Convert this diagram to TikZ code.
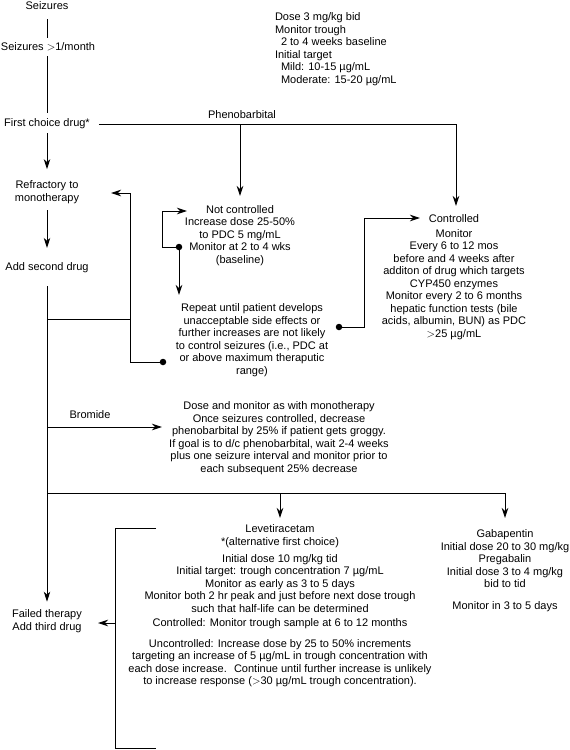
\documentclass[tikz,border=0pt]{standalone}
\usepackage{fontspec}
\setmainfont{Liberation Sans}
\usetikzlibrary{arrows.meta}
\begin{document}
\begin{tikzpicture}[x=1pt,y=-1pt,
  every node/.style={inner sep=0pt, outer sep=0pt, font=\fontsize{11}{12.5}\selectfont},
  txt/.style={align=center},
  ln/.style={line width=0.9pt},
  arr/.style={ln,-{Stealth[length=10pt,width=6.5pt,inset=3pt]}},
  jdot/.style={circle,fill,minimum size=6.5pt}]
\useasboundingbox (0,0) rectangle (570,750);
% left column
\node (sz) at (47,6) {Seizures};
\node (sz2) at (48,47) {Seizures $>$1/month};
\node (fc) at (47,124) {First choice drug*};
\node[txt] (refr) at (47,192) {Refractory to\\monotherapy};
\node (add2) at (47,268) {Add second drug};
\node[txt] (fail) at (47,621) {Failed therapy\\Add third drug};
% texts
\node[align=left, anchor=west] (dose) at (275,49) {Dose 3 mg/kg bid\\Monitor trough\\\hspace*{6pt}2 to 4 weeks baseline\\Initial target\\\hspace*{6pt}Mild: 10-15 µg/mL\\\hspace*{6pt}Moderate: 15-20 µg/mL};
\node (pheno) at (242,115) {Phenobarbital};
\node[txt] (nc) at (240,235.5) {Not controlled\\Increase dose 25-50\%\\to PDC 5 mg/mL\\Monitor at 2 to 4 wks\\(baseline)};
\node[txt] (rep) at (252,340) {Repeat until patient develops\\unacceptable side effects or\\further increases are not likely\\to control seizures (i.e., PDC at\\or above maximum theraputic\\range)};
\node[txt] (ctl) at (454,277) {Controlled\\[2pt]Monitor\\Every 6 to 12 mos\\before and 4 weeks after\\additon of drug which targets\\CYP450 enzymes\\Monitor every 2 to 6 months\\hepatic function tests (bile\\acids, albumin, BUN) as PDC\\$>$25 µg/mL};
\node (brl) at (90,415) {Bromide};
\node[txt] (brt) at (279,438) {Dose and monitor as with monotherapy\\Once seizures controlled, decrease\\phenobarbital by 25\% if patient gets groggy.\\If goal is to d/c phenobarbital, wait 2-4 weeks\\plus one seizure interval and monitor prior to\\each subsequent 25\% decrease};
\node[txt] (lev) at (280,606) {Levetiracetam\\{}*(alternative first choice)\\[4.5pt]Initial dose 10 mg/kg tid\\Initial target: trough concentration 7 µg/mL\\Monitor as early as 3 to 5 days\\Monitor both 2 hr peak and just before next dose trough\\such that half-life can be determined\\[1.5pt]Controlled: Monitor trough sample at 6 to 12 months\\[8.5pt]Uncontrolled: Increase dose by 25 to 50\% increments\\targeting an increase of 5 µg/mL in trough concentration with\\each dose increase.~ Continue until further increase is unlikely\\to increase response ($>$30 µg/mL trough concentration).};
\node[txt] (gab) at (505,571) {Gabapentin\\Initial dose 20 to 30 mg/kg\\Pregabalin\\Initial dose 3 to 4 mg/kg\\bid to tid\\[9.5pt]Monitor in 3 to 5 days};
% dots
\node[jdot] (d1) at (179,247) {};
\node[jdot] (d2) at (339,327) {};
\node[jdot] (d3) at (163,362) {};
% coordinates
\coordinate (j1) at (47,319);
\coordinate (j2) at (47,427);
\coordinate (j3) at (47,493);
\coordinate (fbj) at (130,319);
\coordinate (fbtop) at (130,193);
\coordinate (fbbot) at (130,362);
\coordinate (fbtip) at (111,193);
\coordinate (nclp) at (162,211);
\coordinate (nctip) at (187,211);
\coordinate (reptip) at (179,295);
\coordinate (c2) at (364,218);
\coordinate (ctltip) at (420,218);
\coordinate (phR) at (456,124);
\coordinate (phRtip) at (456,206);
\coordinate (phM) at (240,124);
\coordinate (phMtip) at (240,196);
\coordinate (brtip) at (162,427);
\coordinate (j3r) at (505,493);
\coordinate (levtop) at (280,493);
\coordinate (levtip) at (280,518);
\coordinate (gabtip) at (505,518);
\coordinate (b1) at (156,528);
\coordinate (b2) at (115,528);
\coordinate (b3) at (115,748);
\coordinate (b4) at (156,748);
\coordinate (bm) at (115,623);
\coordinate (bmtip) at (98,623);
% connectors
\draw[ln, shorten <=9pt, shorten >=5pt] (sz.south) -- (sz.south |- sz2.north);
\draw[ln, shorten <=5pt, shorten >=6pt] (sz.south |- sz2.south) -- (fc.north);
\draw[arr, shorten <=4pt, shorten >=11.5pt] (fc.south) -- (refr.north);
\draw[arr, shorten <=7pt, shorten >=15pt] (refr.south) -- (add2.north);
\draw[arr, shorten <=13pt, shorten >=8pt] (add2.south) -- (fail.north);
\draw[arr, shorten <=9pt] (fc.east) -- (phR) -- (phRtip);
\draw[arr] (phM) -- (phMtip);
\draw[arr] (d1.center) -- (nclp |- d1) -- (nclp) -- (nctip);
\draw[arr] (d1.center) -- (reptip);
\draw[arr] (d2.center) -- (c2 |- d2) -- (c2) -- (ctltip);
\draw[arr] (d3.center) -- (fbbot) -- (fbtop) -- (fbtip);
\draw[ln] (j1) -- (fbj);
\draw[arr] (j2) -- (brtip);
\draw[ln] (j3) -- (j3r);
\draw[arr] (levtop) -- (levtip);
\draw[arr] (j3r) -- (gabtip);
\draw[ln] (b1) -- (b2) -- (b3) -- (b4);
\draw[arr] (bm) -- (bmtip);
\end{tikzpicture}
\end{document}
